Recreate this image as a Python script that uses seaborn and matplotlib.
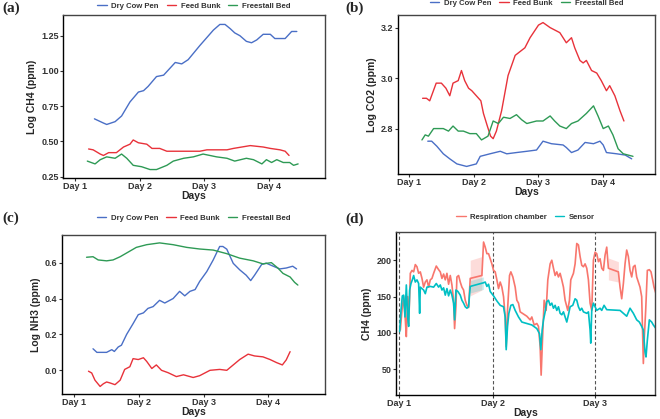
import numpy as np
import pandas as pd
import matplotlib
matplotlib.use("Agg")
import matplotlib.pyplot as plt
import seaborn as sns

# ---- data ----
LOCS = ["Dry Cow Pen", "Feed Bunk", "Freestall Bed"]
LOC_COLORS = {"Dry Cow Pen": "#4A6FC6", "Feed Bunk": "#E8323A", "Freestall Bed": "#2E9A55"}

# (a) Log CH4
a_day_dry = [1.30, 1.44, 1.49, 1.62, 1.72, 1.85, 1.98, 2.06, 2.13, 2.26, 2.37, 2.47, 2.55, 2.65, 2.75, 2.93,
             3.14, 3.24, 3.32, 3.40, 3.47, 3.55, 3.65, 3.73, 3.81, 3.91, 4.02, 4.09, 4.25, 4.35, 4.43]
a_ch4_dry = [0.66, 0.63, 0.62, 0.64, 0.68, 0.78, 0.85, 0.86, 0.89, 0.96, 0.97, 1.02, 1.06, 1.05, 1.08, 1.18,
             1.29, 1.33, 1.33, 1.30, 1.27, 1.25, 1.21, 1.20, 1.22, 1.26, 1.26, 1.23, 1.23, 1.28, 1.28]
a_day_feed = [1.21, 1.28, 1.39, 1.44, 1.52, 1.59, 1.64, 1.75, 1.85, 1.90, 1.98, 2.11, 2.19, 2.31, 2.42, 2.73,
              2.93, 3.04, 3.35, 3.45, 3.71, 3.91, 4.02, 4.17, 4.25, 4.31]
a_ch4_feed = [0.446, 0.44, 0.41, 0.40, 0.42, 0.42, 0.42, 0.46, 0.48, 0.51, 0.49, 0.48, 0.45, 0.45, 0.43, 0.43,
              0.43, 0.44, 0.44, 0.45, 0.47, 0.46, 0.45, 0.44, 0.43, 0.40]
a_day_free = [1.19, 1.31, 1.39, 1.49, 1.62, 1.72, 1.80, 1.90, 2.03, 2.16, 2.26, 2.42, 2.52, 2.68, 2.83, 2.98,
              3.19, 3.35, 3.47, 3.65, 3.76, 3.89, 3.96, 4.04, 4.12, 4.22, 4.32, 4.38, 4.45]
a_ch4_free = [0.36, 0.34, 0.37, 0.39, 0.38, 0.41, 0.38, 0.33, 0.32, 0.30, 0.30, 0.33, 0.36, 0.38, 0.39, 0.41,
              0.39, 0.38, 0.36, 0.38, 0.37, 0.34, 0.37, 0.35, 0.37, 0.35, 0.35, 0.33, 0.34]

# (b) Log CO2
b_day_dry = [1.29, 1.35, 1.43, 1.53, 1.63, 1.74, 1.89, 2.04, 2.10, 2.25, 2.41, 2.51, 2.66, 2.82, 2.97,
             3.07, 3.20, 3.38, 3.43, 3.51, 3.61, 3.72, 3.85, 3.95, 4.00, 4.05, 4.21, 4.34, 4.44]
b_co2_dry = [2.75, 2.75, 2.73, 2.70, 2.68, 2.66, 2.65, 2.66, 2.69, 2.70, 2.71, 2.70, 2.705, 2.71, 2.715,
             2.75, 2.74, 2.735, 2.725, 2.705, 2.715, 2.745, 2.74, 2.75, 2.735, 2.705, 2.70, 2.695, 2.68]
b_day_feed = [1.21, 1.27, 1.32, 1.42, 1.50, 1.57, 1.63, 1.68, 1.76, 1.81, 1.86, 1.92, 1.97, 2.04, 2.11,
              2.15, 2.21, 2.26, 2.30, 2.35, 2.43, 2.53, 2.64, 2.79, 2.87, 3.00, 3.07, 3.18, 3.33, 3.43,
              3.51, 3.56, 3.64, 3.69, 3.74, 3.82, 3.90, 3.97, 4.05, 4.10, 4.18, 4.26, 4.32]
b_co2_feed = [2.92, 2.92, 2.91, 2.98, 2.98, 2.96, 2.93, 2.98, 2.99, 3.03, 2.99, 2.96, 2.95, 2.93, 2.91,
              2.86, 2.81, 2.77, 2.76, 2.79, 2.87, 3.01, 3.09, 3.12, 3.16, 3.21, 3.22, 3.20, 3.18, 3.14,
              3.16, 3.12, 3.07, 3.06, 3.07, 3.03, 3.02, 2.99, 2.95, 2.97, 2.93, 2.87, 2.83]
b_day_free = [1.20, 1.25, 1.30, 1.38, 1.53, 1.61, 1.68, 1.76, 1.84, 1.94, 2.04, 2.12, 2.22, 2.30, 2.38,
              2.46, 2.56, 2.66, 2.74, 2.82, 2.97, 3.07, 3.18, 3.25, 3.33, 3.43, 3.51, 3.61, 3.74, 3.85,
              3.92, 4.00, 4.08, 4.15, 4.23, 4.31, 4.46]
b_co2_free = [2.755, 2.775, 2.77, 2.80, 2.80, 2.79, 2.81, 2.79, 2.79, 2.78, 2.78, 2.755, 2.77, 2.83, 2.82,
              2.845, 2.84, 2.855, 2.835, 2.82, 2.83, 2.83, 2.85, 2.83, 2.81, 2.80, 2.82, 2.83, 2.86, 2.89,
              2.85, 2.80, 2.81, 2.775, 2.72, 2.70, 2.69]

# (c) Log NH3
c_day_dry = [1.29, 1.35, 1.50, 1.58, 1.62, 1.68, 1.73, 1.81, 1.91, 1.99, 2.07, 2.14, 2.22, 2.32, 2.40,
             2.53, 2.63, 2.71, 2.79, 2.87, 2.94, 3.05, 3.15, 3.25, 3.30, 3.36, 3.46, 3.56, 3.66, 3.73,
             3.79, 3.90, 3.97, 4.08, 4.18, 4.28, 4.38, 4.44]
c_nh3_dry = [0.12, 0.10, 0.10, 0.115, 0.105, 0.13, 0.14, 0.20, 0.26, 0.31, 0.32, 0.345, 0.355, 0.39, 0.375,
             0.40, 0.44, 0.415, 0.44, 0.45, 0.495, 0.55, 0.615, 0.69, 0.69, 0.675, 0.596, 0.56, 0.53, 0.50,
             0.53, 0.59, 0.597, 0.58, 0.565, 0.57, 0.58, 0.565]
c_day_feed = [1.22, 1.27, 1.32, 1.40, 1.45, 1.50, 1.55, 1.63, 1.71, 1.78, 1.86, 1.91, 1.99, 2.07, 2.12,
              2.20, 2.27, 2.35, 2.45, 2.58, 2.69, 2.84, 2.94, 3.10, 3.25, 3.36, 3.46, 3.56, 3.69, 3.79,
              3.92, 4.03, 4.13, 4.22, 4.28, 4.34]
c_nh3_feed = [-0.005, -0.015, -0.055, -0.09, -0.075, -0.065, -0.07, -0.08, -0.055, 0.005, 0.02, 0.065, 0.06,
              0.07, 0.05, 0.01, 0.03, 0.00, -0.013, -0.035, -0.025, -0.04, -0.03, 0.00, 0.005, 0.00, 0.03,
              0.06, 0.09, 0.08, 0.075, 0.06, 0.043, 0.03, 0.058, 0.104]
c_day_free = [1.19, 1.29, 1.37, 1.50, 1.60, 1.71, 1.84, 1.96, 2.12, 2.32, 2.53, 2.74, 2.94, 3.15, 3.36,
              3.56, 3.77, 3.92, 4.05, 4.15, 4.23, 4.34, 4.41, 4.46]
c_nh3_free = [0.63, 0.633, 0.615, 0.61, 0.615, 0.633, 0.66, 0.685, 0.70, 0.71, 0.70, 0.685, 0.676, 0.67, 0.65,
              0.625, 0.61, 0.593, 0.60, 0.57, 0.54, 0.52, 0.49, 0.475]

# (d) CH4 ppm, respiration chamber vs sensor (x in hours from Day 1)
d_hr_chamber = [0.24, 0.64, 1.04, 1.44, 1.68, 2.0, 2.24, 2.48, 2.64, 3.04, 3.44, 3.84, 4.24, 4.64, 5.04,
                5.44, 5.84, 6.24, 6.64, 7.04, 7.44, 7.84, 8.24, 8.88, 9.44, 9.84, 10.24, 10.64, 11.04, 11.44,
                11.84, 12.24, 12.64, 13.04, 13.28, 13.6, 13.84, 14.24, 14.64, 15.04, 15.44, 15.84, 16.24,
                16.64, 17.04, 19.84, 20.24, 20.64, 21.04, 21.44, 21.84, 22.24, 22.64, 23.04, 23.44, 23.84,
                24.24, 24.64, 25.04, 25.44, 25.68, 26.0, 26.48, 26.8, 27.28, 27.84, 28.24, 28.64, 29.04,
                29.84, 30.64, 31.44, 31.84, 32.4, 33.04, 33.44, 33.84, 34.08, 34.4, 34.8, 35.28, 35.68,
                36.24, 36.64, 37.04, 37.44, 37.84, 38.24, 38.64, 39.04, 39.44, 39.84, 40.24, 40.48, 40.88,
                41.2, 41.84, 42.24, 42.64, 43.04, 43.44, 43.84, 44.24, 44.64, 45.04, 45.44, 45.84, 46.24,
                46.64, 47.04, 47.44, 47.84, 48.24, 48.64, 49.04, 49.44, 49.84, 50.24, 52.64, 53.04, 53.44,
                53.84, 54.24, 54.64, 55.04, 55.44, 55.84, 56.24, 56.64, 57.04, 57.44, 57.84, 58.24, 58.48,
                58.64, 58.88, 59.2, 59.6, 60.08, 60.48, 60.88, 61.2, 61.68]
d_ch4_chamber = [104, 131, 150, 118, 95, 150, 113, 150, 182, 186, 184, 194, 191, 182, 184,
                 175, 163, 170, 173, 163, 173, 175, 182, 192, 187, 184, 175, 181, 173, 182,
                 167, 179, 166, 145, 106, 136, 177, 179, 170, 163, 159, 145, 138,
                 135, 175, 179, 225, 218, 209, 209, 202, 195, 186, 184, 173, 161,
                 170, 163, 150, 122, 81, 131, 179, 184, 177, 163, 145, 141, 129,
                 126, 123, 118, 122, 111, 113, 109, 81, 42, 90, 145, 131, 173,
                 195, 200, 189, 179, 184, 177, 182, 173, 163, 145, 136, 131, 145,
                 173, 182, 195, 223, 221, 205, 193, 191, 195, 189, 173, 141, 131,
                 200, 211, 209, 198, 202, 189, 186, 207, 218, 189, 184, 163, 147,
                 168, 195, 214, 205, 186, 177, 191, 193, 177, 170, 163, 150, 95,
                 58, 95, 131, 186, 187, 184, 173, 163, 154]
d_hr_sensor = [0.08, 0.4, 0.72, 1.04, 1.36, 1.68, 2.0, 2.24, 2.48, 2.8, 3.12, 3.44, 3.84, 4.24, 4.64,
               4.88, 5.04, 5.44, 5.84, 6.24, 6.64, 7.44, 8.24, 8.88, 9.44, 9.84, 10.24, 10.64, 11.04, 11.44,
               11.84, 12.24, 12.64, 13.04, 13.28, 13.6, 14.08, 14.64, 15.04, 15.44, 15.84, 16.24, 16.64,
               17.04, 20.24, 20.64, 21.04, 21.44, 21.84, 22.64, 23.44, 24.24, 25.04, 25.44, 25.68, 26.0,
               26.32, 26.8, 27.28, 27.84, 28.64, 29.44, 30.64, 31.84, 33.04, 33.68, 34.0, 34.32, 34.64,
               35.04, 35.44, 35.84, 36.24, 36.64, 37.04, 37.44, 37.84, 38.24, 38.64, 39.04, 39.44, 39.84,
               40.24, 40.64, 41.04, 41.68, 42.24, 42.64, 43.04, 43.44, 43.84, 44.24, 45.04, 45.44, 45.84,
               46.0, 46.24, 46.64, 47.04, 47.44, 48.24, 48.64, 49.2, 49.84, 53.04, 53.84, 54.64, 55.44,
               56.24, 57.04, 57.68, 58.24, 58.64, 59.04, 59.28, 59.6, 60.08, 60.64, 61.04, 61.68]
d_ch4_sensor = [102, 131, 151, 152, 122, 166, 122, 109, 159, 168, 173, 179, 170, 173, 168,
                127, 163, 161, 159, 154, 163, 164, 163, 168, 163, 166, 159, 162, 152, 161,
                151, 159, 152, 141, 118, 159, 157, 152, 145, 141, 136, 134, 136,
                164, 169, 170, 164, 167, 157, 151, 144, 138, 136, 122, 77, 109,
                127, 138, 139, 131, 122, 115, 113, 111, 106, 99, 77, 104, 118,
                129, 143, 145, 138, 141, 134, 138, 131, 136, 127, 125, 129, 122,
                115, 125, 136, 138, 147, 145, 136, 131, 134, 129, 127, 129, 104,
                86, 131, 141, 136, 131, 134, 131, 138, 132, 131, 127, 123, 134,
                127, 118, 115, 109, 104, 74, 67, 90, 118, 115, 111, 106]
# shaded bands across the gaps in the series
d_gap1_hr, d_gap1_lo, d_gap1_hi = [17.04, 19.84], [151, 159], [200, 205]
d_gap2_hr, d_gap2_lo, d_gap2_hi = [50.24, 52.64], [173, 170], [203, 198]
d_gap3_hr, d_gap3_lo, d_gap3_hi = [17.04, 20.24], [155, 160], [172, 177]
d_day_hr = [0, 22.4, 47.04]
SRC = ["Respiration chamber", "Sensor"]
SRC_COLORS = {"Respiration chamber": "#F8766D", "Sensor": "#00BFC4"}


def long_df(series):
    return pd.concat([pd.DataFrame({"x": x, "y": y, "group": g}) for g, x, y in series],
                     ignore_index=True)


df_a = long_df([("Dry Cow Pen", a_day_dry, a_ch4_dry), ("Feed Bunk", a_day_feed, a_ch4_feed),
                ("Freestall Bed", a_day_free, a_ch4_free)])
df_b = long_df([("Dry Cow Pen", b_day_dry, b_co2_dry), ("Feed Bunk", b_day_feed, b_co2_feed),
                ("Freestall Bed", b_day_free, b_co2_free)])
df_c = long_df([("Dry Cow Pen", c_day_dry, c_nh3_dry), ("Feed Bunk", c_day_feed, c_nh3_feed),
                ("Freestall Bed", c_day_free, c_nh3_free)])
df_d = long_df([("Respiration chamber", d_hr_chamber, d_ch4_chamber), ("Sensor", d_hr_sensor, d_ch4_sensor)])

# ---- figure ----
sns.set_style("ticks")
plt.rcParams["font.family"] = ["Liberation Sans", "DejaVu Sans"]

W, H = 660, 419
fig = plt.figure(figsize=(W / 100, H / 100), dpi=100)


def add_ax(l, r, t, b):
    return fig.add_axes([l / W, 1 - b / H, (r - l) / W, (b - t) / H])


def style(ax, ylabel, xticks, xlabels, yticks, ylabels, h_px, leg_dy):
    ax.set_xticks(xticks)
    ax.set_xticklabels(xlabels)
    ax.set_yticks(yticks)
    ax.set_yticklabels(ylabels)
    ax.set_xlabel("Days", fontsize=7.5, fontweight="bold", labelpad=0)
    ax.set_ylabel(ylabel, fontsize=7.5, fontweight="bold", labelpad=3)
    for s in ax.spines.values():
        s.set_visible(True)
        s.set_color("#444444")
        s.set_linewidth(1.0)
    ax.spines["left"].set_color("black")
    ax.spines["bottom"].set_color("black")
    ax.tick_params(length=2.2, width=0.8, colors="#333333", labelsize=6.5, pad=1)
    for lab in ax.get_xticklabels() + ax.get_yticklabels():
        lab.set_fontweight("bold")
    sns.move_legend(ax, "center", bbox_to_anchor=(0.5, 1 + leg_dy / h_px), ncol=3, title=None,
                    frameon=False, fontsize=5.6, handlelength=1.2, handletextpad=0.6,
                    columnspacing=1.0, borderaxespad=0)
    for t in ax.get_legend().get_texts():
        t.set_fontweight("bold")
        t.set_color("#333333")
    for ln in ax.get_legend().get_lines():
        ln.set_linewidth(1.0)


day_ticks = [1, 2, 3, 4]
day_labels = ["Day 1", "Day 2", "Day 3", "Day 4"]

# (a)
ax = add_ax(63, 325, 15, 178)
sns.lineplot(data=df_a, x="x", y="y", hue="group", hue_order=LOCS, palette=LOC_COLORS,
             estimator=None, linewidth=1.0, ax=ax)
ax.set_xlim(0.814, 4.866)
ax.set_ylim(0.24, 1.397)
style(ax, "Log CH4 (ppm)", day_ticks, day_labels, [0.25, 0.5, 0.75, 1.0, 1.25],
      ["0.25", "0.50", "0.75", "1.00", "1.25"], 163, 8.5)

# (b)
ax = add_ax(398, 655, 15, 174)
sns.lineplot(data=df_b, x="x", y="y", hue="group", hue_order=LOCS, palette=LOC_COLORS,
             estimator=None, linewidth=1.0, ax=ax)
ax.set_xlim(0.83, 4.80)
ax.set_ylim(2.62, 3.25)
style(ax, "Log CO2 (ppm)", day_ticks, day_labels, [2.8, 3.0, 3.2], ["2.8", "3.0", "3.2"], 159, 12)

# (c)
ax = add_ax(62, 325, 235, 394)
sns.lineplot(data=df_c, x="x", y="y", hue="group", hue_order=LOCS, palette=LOC_COLORS,
             estimator=None, linewidth=1.0, ax=ax)
ax.set_xlim(0.81, 4.88)
ax.set_ylim(-0.132, 0.754)
style(ax, "Log NH3 (ppm)", day_ticks, day_labels, [0.0, 0.2, 0.4, 0.6],
      ["0.0", "0.2", "0.4", "0.6"], 159, 17)

# (d)
ax = add_ax(396, 655, 232, 395)
ax.fill_between(d_gap1_hr, d_gap1_lo, d_gap1_hi, color="#F8766D", alpha=0.25, lw=0)
ax.fill_between(d_gap2_hr, d_gap2_lo, d_gap2_hi, color="#F8766D", alpha=0.25, lw=0)
ax.fill_between(d_gap3_hr, d_gap3_lo, d_gap3_hi, color="#00BFC4", alpha=0.2, lw=0)
sns.lineplot(data=df_d, x="x", y="y", hue="group", hue_order=SRC, palette=SRC_COLORS,
             estimator=None, linewidth=1.2, ax=ax)
for h in d_day_hr:
    ax.axvline(h, color="#555555", ls=(0, (3, 2)), lw=0.8, zorder=0)
ax.set_xlim(-0.8, 61.44)
ax.set_ylim(14.7, 238.8)
style(ax, "CH4 (ppm)", d_day_hr, ["Day 1", "Day 2", "Day 3"], [50, 100, 150, 200],
      ["50", "100", "150", "200"], 163, 15)

# panel letters
for lab, x, y in [("(a)", 2, 8), ("(b)", 345, 8), ("(c)", 2, 218), ("(d)", 345, 219)]:
    fig.text(x / W, 1 - y / H, lab, family=["Liberation Serif", "DejaVu Serif"], fontweight="bold",
             fontsize=11, va="center", ha="left")

fig.savefig("out.png", dpi=100)
